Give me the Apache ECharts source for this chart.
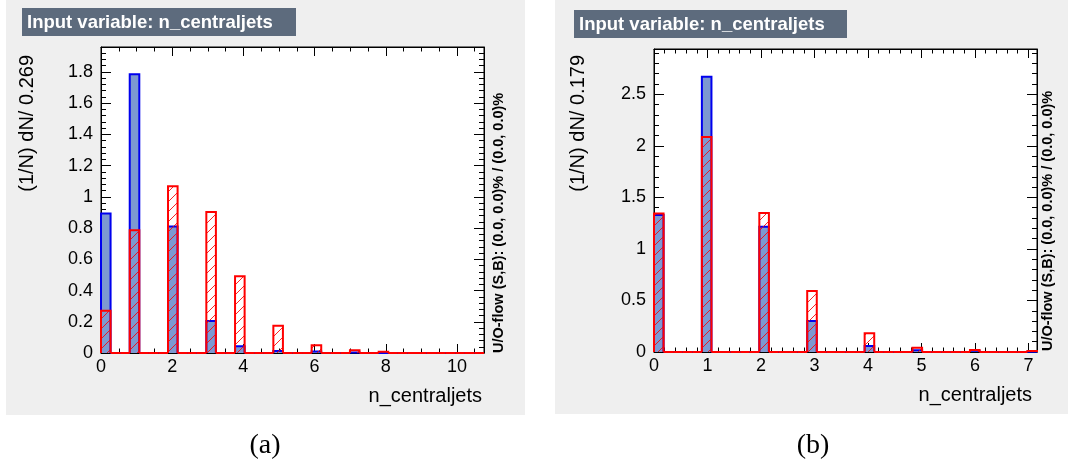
<!DOCTYPE html>
<html><head><meta charset="utf-8">
<script src="https://cdn.jsdelivr.net/npm/echarts@6/dist/echarts.min.js"></script>
<style>html,body{margin:0;padding:0;background:#fff}#c{width:1068px;height:469px}</style>
</head><body><div id="c"></div>
<script>
// ---------- texts ----------
const panelTitle = 'Input variable: n_centraljets';
const xTitle = 'n_centraljets';
const overflowText = 'U/O-flow (S,B): (0.0, 0.0)% / (0.0, 0.0)%';
const captions = ['(a)', '(b)'];

// ---------- panel (a) ----------
const aBinWidth = 0.269;
const aBinCount = 40;
const aJets = [0, 1, 2, 3, 4, 5, 6, 7, 8];
const aSignal = [0.893, 1.785, 0.811, 0.205, 0.043, 0.013, 0.010, 0.004, 0.000];
const aBackground = [0.270, 0.786, 1.068, 0.903, 0.491, 0.175, 0.049, 0.017, 0.008];
const aYMax = 1.96;
const aYTitle = '(1/N) dN/ 0.269';

// ---------- panel (b) ----------
const bBinWidth = 0.179;
const bBinCount = 40;
const bJets = [0, 1, 2, 3, 4, 5, 6, 7];
const bSignal = [1.330, 2.671, 1.216, 0.301, 0.058, 0.016, 0.012, 0.003];
const bBackground = [1.345, 2.086, 1.349, 0.592, 0.181, 0.042, 0.019, 0.010];
const bYMax = 2.94;
const bYTitle = '(1/N) dN/ 0.179';

// ---------- build histogram bins (library data table) ----------
function buildBins(width, count, jets, values) {
  const bins = [];
  for (let i = 0; i < count; i++) bins.push([i * width, (i + 1) * width, 0]);
  jets.forEach((j, k) => {
    const idx = Math.floor(j / width + 1e-9);
    if (idx < count) bins[idx][2] = values[k];
  });
  return bins;
}

const SIG_FILL = '#7d99d1', SIG_LINE = '#0000ee', BKG_LINE = '#ff0000';
const FONT = 'Liberation Sans';

function makeHatch() {
  const s = 10;
  const c = document.createElement('canvas');
  c.width = s; c.height = s;
  const g = c.getContext('2d');
  g.strokeStyle = 'rgba(255,0,0,0.85)';
  g.lineWidth = 1;
  g.beginPath();
  g.moveTo(0, s); g.lineTo(s, 0);
  g.moveTo(-2, 2); g.lineTo(2, -2);
  g.moveTo(s - 2, s + 2); g.lineTo(s + 2, s - 2);
  g.stroke();
  return c;
}
const hatch = makeHatch();

function fillRender(fill) {
  return function (params, api) {
    const lo = api.value(0), hi = api.value(1), v = api.value(2);
    if (!(v > 0)) return null;
    const a = api.coord([lo, 0]), b = api.coord([hi, v]);
    return { type: 'rect', shape: { x: a[0], y: b[1], width: b[0] - a[0], height: a[1] - b[1] },
      style: { fill: fill } };
  };
}
function lineRender(color) {
  return function (params, api) {
    const lo = api.value(0), hi = api.value(1), v = api.value(2);
    const a = api.coord([lo, 0]), b = api.coord([hi, v]);
    return { type: 'polyline',
      shape: { points: [[a[0], a[1]], [a[0], b[1]], [b[0], b[1]], [b[0], a[1]]] },
      style: { stroke: color, lineWidth: 2, fill: null, lineJoin: 'miter' } };
  };
}

function xAx(gi, max, interval, split, pos) {
  return {
    type: 'value', gridIndex: gi, position: pos, min: 0, max: max, interval: interval,
    axisLine: { show: true, onZero: false, lineStyle: { color: '#000', width: 1 } },
    axisTick: { show: true, inside: true, length: 9, lineStyle: { color: '#000', width: 1 } },
    minorTick: { show: true, splitNumber: split, length: 4.5, lineStyle: { color: '#000', width: 1 } },
    splitLine: { show: false }, minorSplitLine: { show: false },
    axisLabel: pos === 'bottom'
      ? { show: true, fontSize: 18, color: '#000', fontFamily: FONT, margin: 5, showMaxLabel: false }
      : { show: false }
  };
}
function yAx(gi, max, interval, split, pos) {
  return {
    type: 'value', gridIndex: gi, position: pos, min: 0, max: max, interval: interval,
    axisLine: { show: true, onZero: false, lineStyle: { color: '#000', width: 1 } },
    axisTick: { show: true, inside: true, length: 10, lineStyle: { color: '#000', width: 1 } },
    minorTick: { show: true, splitNumber: split, length: 5, lineStyle: { color: '#000', width: 1 } },
    splitLine: { show: false }, minorSplitLine: { show: false },
    axisLabel: pos === 'left'
      ? { show: true, fontSize: 18, color: '#000', fontFamily: FONT, margin: 8, showMaxLabel: false }
      : { show: false }
  };
}

const aSigBins = buildBins(aBinWidth, aBinCount, aJets, aSignal);
const aBkgBins = buildBins(aBinWidth, aBinCount, aJets, aBackground);
const bSigBins = buildBins(bBinWidth, bBinCount, bJets, bSignal);
const bBkgBins = buildBins(bBinWidth, bBinCount, bJets, bBackground);
const aXMax = aBinWidth * aBinCount;
const bXMax = bBinWidth * bBinCount;

function seriesFor(xi, yi, sig, bkg) {
  const base = { type: 'custom', xAxisIndex: xi, yAxisIndex: yi, clip: false, silent: true,
    encode: { x: [0, 1], y: 2 } };
  return [
    Object.assign({}, base, { data: sig, renderItem: fillRender(SIG_FILL), z: 2 }),
    Object.assign({}, base, { data: sig, renderItem: lineRender(SIG_LINE), z: 3 }),
    Object.assign({}, base, { data: bkg, renderItem: fillRender({ image: hatch, repeat: 'repeat' }), z: 4 }),
    Object.assign({}, base, { data: bkg, renderItem: lineRender(BKG_LINE), z: 5 })
  ];
}

function panelGraphics(p) {
  return [
    { type: 'rect', z: -10, shape: { x: p.px, y: p.py, width: p.pw, height: p.ph }, style: { fill: '#efefef' } },
    { type: 'rect', z: 10, shape: { x: p.tx, y: p.ty, width: p.tw, height: p.th }, style: { fill: '#5d6b7d' } },
    { type: 'text', z: 11, x: p.tx + 5, y: p.ty + p.th / 2 + 1,
      style: { text: panelTitle, fill: '#fff', font: 'bold 18.5px "Liberation Sans"', align: 'left', verticalAlign: 'middle' } },
    { type: 'text', z: 11, x: p.yx, y: p.yy, rotation: Math.PI / 2,
      style: { text: p.yTitle, fill: '#000', font: '20px "Liberation Sans"', align: 'right', verticalAlign: 'middle' } },
    { type: 'text', z: 11, x: p.xx, y: p.xy,
      style: { text: xTitle, fill: '#000', font: '20px "Liberation Sans"', align: 'right', verticalAlign: 'middle' } },
    { type: 'text', z: 11, x: p.ux, y: p.uy, rotation: Math.PI / 2,
      style: { text: overflowText, fill: '#000', font: 'bold 14.5px "Liberation Sans"', align: 'left', verticalAlign: 'middle' } },
    { type: 'text', z: 11, x: p.cx, y: p.cy,
      style: { text: p.caption, fill: '#000', font: '28px "Liberation Serif"', align: 'center', verticalAlign: 'middle' } }
  ];
}

const chart = echarts.init(document.getElementById('c'), null, { renderer: 'canvas' });
chart.setOption({
  backgroundColor: '#ffffff',
  animation: false,
  grid: [
    { left: 101, top: 47, width: 383, height: 306, show: true, backgroundColor: '#fff', borderColor: '#000', borderWidth: 1 },
    { left: 654, top: 49, width: 383, height: 303, show: true, backgroundColor: '#fff', borderColor: '#000', borderWidth: 1 }
  ],
  xAxis: [
    xAx(0, aXMax, 2, 4, 'bottom'), xAx(0, aXMax, 2, 4, 'top'),
    xAx(1, bXMax, 1, 5, 'bottom'), xAx(1, bXMax, 1, 5, 'top')
  ],
  yAxis: [
    yAx(0, aYMax, 0.2, 5, 'left'), yAx(0, aYMax, 0.2, 5, 'right'),
    yAx(1, bYMax, 0.5, 5, 'left'), yAx(1, bYMax, 0.5, 5, 'right')
  ],
  series: [].concat(
    seriesFor(0, 0, aSigBins, aBkgBins),
    seriesFor(2, 2, bSigBins, bBkgBins)
  ),
  graphic: { elements: [].concat(
    panelGraphics({ px: 6, py: 0, pw: 519, ph: 415, tx: 22, ty: 8, tw: 274, th: 28,
      yx: 27, yy: 55, yTitle: aYTitle, xx: 482, xy: 396, ux: 499, uy: 353, cx: 265, cy: 446, caption: captions[0] }),
    panelGraphics({ px: 555, py: 0, pw: 513, ph: 414, tx: 574, ty: 10, tw: 273, th: 28,
      yx: 578, yy: 55, yTitle: bYTitle, xx: 1032, xy: 395, ux: 1048, uy: 351, cx: 813, cy: 446, caption: captions[1] })
  ) }
});
</script></body></html>
